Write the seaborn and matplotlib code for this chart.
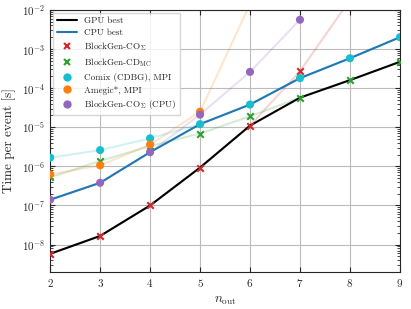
import matplotlib
matplotlib.use('Agg')
import matplotlib.pyplot as plt
import matplotlib.ticker as mticker
from matplotlib.lines import Line2D
import pandas as pd
import seaborn as sns

sns.set_style('ticks')
plt.rcParams['font.family'] = 'serif'
plt.rcParams['font.serif'] = ['cmr10', 'DejaVu Serif']
plt.rcParams['mathtext.fontset'] = 'cm'
plt.rcParams['axes.formatter.use_mathtext'] = True

# timings per event [s]
n_cogpu = [2, 3, 4, 5, 6, 7, 8]
t_cogpu = [5.8e-9, 1.66e-8, 1.0e-7, 9.3e-7, 1.1e-5, 2.7e-4, 1.8e-2]
n_cdmc = [2, 3, 4, 5, 6, 7, 8, 9]
t_cdmc = [5.2e-7, 1.37e-6, 3.3e-6, 6.9e-6, 1.9e-5, 5.7e-5, 1.6e-4, 4.7e-4]
n_comix = [2, 3, 4, 5, 6, 7, 8, 9]
t_comix = [1.67e-6, 2.6e-6, 5.2e-6, 1.2e-5, 3.8e-5, 1.8e-4, 5.8e-4, 2.0e-3]
n_amegic = [2, 3, 4, 5, 6]
t_amegic = [6.2e-7, 1.06e-6, 3.6e-6, 2.5e-5, 1.4e-2]
n_cocpu = [2, 3, 4, 5, 6, 7]
t_cocpu = [1.4e-7, 3.8e-7, 2.3e-6, 2.1e-5, 2.6e-4, 5.6e-3]

n_gpu = [2, 3, 4, 5, 6, 7, 8, 9]
t_gpu = [5.8e-9, 1.66e-8, 1.0e-7, 9.3e-7, 1.1e-5, 5.7e-5, 1.6e-4, 4.7e-4]
n_cpu = [2, 3, 4, 5, 6, 7, 8, 9]
t_cpu = [1.4e-7, 3.8e-7, 2.3e-6, 1.2e-5, 3.8e-5, 1.8e-4, 5.8e-4, 2.0e-3]

series = [
    ('BlockGen-CO$_\\Sigma$', n_cogpu, t_cogpu, '#d62728', 'X'),
    ('BlockGen-CD$_\\mathrm{MC}$', n_cdmc, t_cdmc, '#2ca02c', 'X'),
    ('Comix (CDBG), MPI', n_comix, t_comix, '#17becf', 'o'),
    ('Amegic*, MPI', n_amegic, t_amegic, '#ff7f0e', 'o'),
    ('BlockGen-CO$_\\Sigma$ (CPU)', n_cocpu, t_cocpu, '#9467bd', 'o'),
]

fig = plt.figure(figsize=(4.11, 3.09), dpi=100)
ax = fig.add_axes([0.122, 0.12, 0.851, 0.848])

# faint connecting lines
for label, n, t, c, m in series:
    df = pd.DataFrame({'n': n, 't': t})
    sns.lineplot(x='n', y='t', data=df, color=c, alpha=0.2, lw=1.5, ax=ax)

gpu = pd.DataFrame({'n': n_gpu, 't': t_gpu})
cpu = pd.DataFrame({'n': n_cpu, 't': t_cpu})
sns.lineplot(x='n', y='t', data=gpu, color='black', lw=1.5, ax=ax)
sns.lineplot(x='n', y='t', data=cpu, color='#1f77b4', lw=1.5, ax=ax)

for label, n, t, c, m in series:
    df = pd.DataFrame({'n': n, 't': t})
    if m == 'X':
        ax.scatter(df['n'], df['t'], marker='x', s=22, color=c, linewidths=1.5, zorder=4)
    else:
        sns.scatterplot(x='n', y='t', data=df, color=c, marker='o', s=34,
                        edgecolor='none', zorder=4, ax=ax)

ax.set_yscale('log')
ax.set_xlim(2, 9)
ax.set_ylim(2e-9, 1e-2)
ax.set_xlabel('$n_\\mathrm{out}$', fontsize=9.5)
ax.set_ylabel('Time per event [s]', fontsize=9.5)
ax.grid(True, which='major', color='#bbbbbb', lw=0.8)
ax.yaxis.set_major_locator(mticker.LogLocator(base=10, numticks=20))
ax.yaxis.set_minor_locator(mticker.LogLocator(base=10, subs=range(2, 10), numticks=20))
ax.yaxis.set_minor_formatter(mticker.NullFormatter())
ax.tick_params(which='both', direction='in', top=True, right=True, labelsize=8)
ax.tick_params(which='minor', length=2)

handles = [Line2D([], [], color='black', lw=1.5),
           Line2D([], [], color='#1f77b4', lw=1.5)]
for label, n, t, c, m in series:
    if m == 'X':
        handles.append(Line2D([], [], ls='', marker='x', color=c, markersize=5, mew=1.5))
    else:
        handles.append(Line2D([], [], ls='', marker='o', color=c, markersize=6, mec='none'))
labels = ['GPU best', 'CPU best'] + [s[0] for s in series]
ax.legend(handles, labels, loc='upper left', fontsize=6.6, frameon=True,
          fancybox=False, edgecolor='#cccccc', handlelength=2.2, labelspacing=0.4,
          borderaxespad=0.3)

fig.savefig('out.png', dpi=100)
